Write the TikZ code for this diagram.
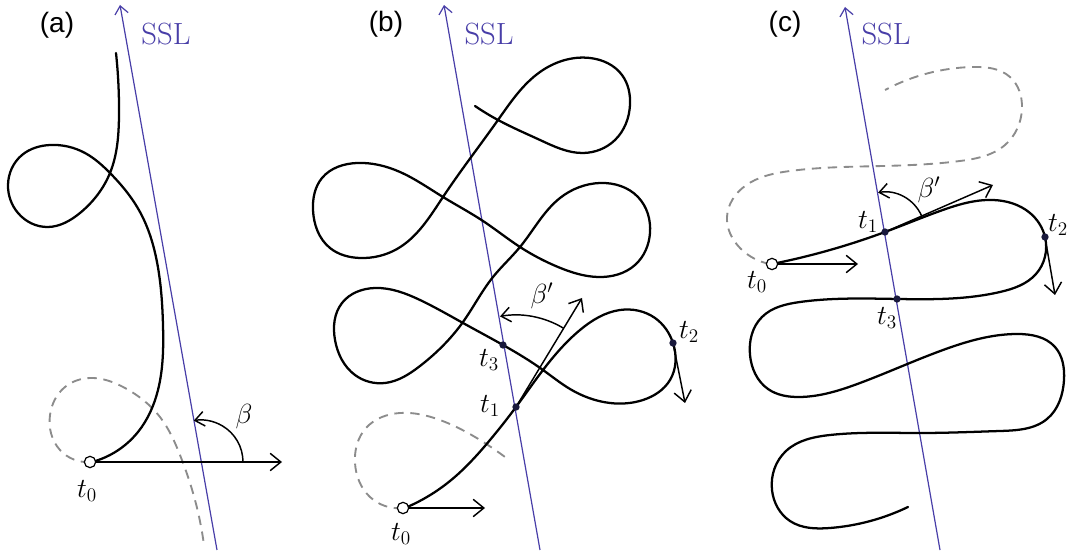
\documentclass[tikz,border=0pt]{standalone}
\usepackage{fontspec}
\newfontfamily\labfont{Liberation Sans}
\usetikzlibrary{arrows.meta,hobby}
\definecolor{sslc}{RGB}{72,62,168}
\definecolor{dashc}{RGB}{140,140,140}
\definecolor{dotc}{RGB}{25,25,60}
\tikzset{
  trj/.style={line width=1.7pt, black, line cap=round, line join=round, use Hobby shortcut},
  trjd/.style={line width=1.4pt, dashc, dash pattern=on 7pt off 5pt, use Hobby shortcut},
  ssl/.style={sslc, line width=0.9pt, -{Straight Barb[length=6pt,width=10pt]}},
  vec/.style={line width=1.1pt, -{Straight Barb[length=8pt,width=13pt]}},
  ang/.style={line width=1.1pt, -{Straight Barb[length=7pt,width=11pt]}},
  tdot/.style={circle, fill=dotc, inner sep=0pt, minimum size=5.5pt},
  startpt/.style={circle, draw, line width=0.9pt, fill=white, inner sep=0pt, minimum size=8.5pt},
  lab/.style={font=\fontsize{21}{24}\selectfont, inner sep=0pt},
  panel/.style={font=\labfont\fontsize{21}{24}\selectfont, inner sep=0pt},
  ssltxt/.style={text=sslc, font=\fontsize{23}{26}\selectfont, inner sep=0pt},
}
\begin{document}
\begin{tikzpicture}[x=0.75pt,y=-0.75pt]
\useasboundingbox (0,0) rectangle (1068,555);
\fill[white] (0,0) rectangle (1068,555);

% ================= panel (a) =================
\node[panel] (pa) at (57,25) {(a)};
\coordinate (sslaB) at (217,550);
\coordinate (sslaT) at (120,5);
\draw[ssl] (sslaB) -- (sslaT);
\node[ssltxt] (sslla) at (166,34) {SSL};

\draw[trjd] (90,462) .. (60,450) .. (50,415) .. (65,387) .. (90,378) .. (125,388) .. (160,417) .. (180,455) .. (195,500) .. (204,545);

\draw[trj] (116,53) .. (119,115) .. (110,173) .. (80,213) .. (48,227) .. (18,213) .. (8,185) .. (22,155) .. (50,145) .. (85,153) .. (110,173) .. (140,212) .. (157,262) .. (163,325) .. (158,390) .. (138,432) .. (110,455) .. (92,462);

\coordinate (t0a) at (90,462);
\coordinate (va) at (282,462);
\draw[vec] (t0a) -- (va);
\draw[ang] (243,462) arc[start angle=0, end angle=100, radius=31.5pt];
\node[lab] (betaa) at (244,417) {$\beta$};
\node[startpt] (t0an) at (t0a) {};
\node[lab] (t0al) at (87,491) {$t_0$};

% ================= panel (b) =================
\node[panel] (pb) at (386,24) {(b)};
\coordinate (sslbB) at (540,550);
\coordinate (sslbT) at (444,5);
\draw[ssl] (sslbB) -- (sslbT);
\node[ssltxt] (ssllb) at (489,34) {SSL};

\draw[trjd] (403,508) .. (370,497) .. (355,463) .. (366,428) .. (400,413) .. (440,420) .. (480,440) .. (505,457);

\draw[trj] (405,508) .. (450,481) .. (490,440) .. (516,407) .. (543,370) .. (580,330) .. (620,310) .. (655,318) .. (673,343) .. (670,380) .. (643,400) .. (610,403) .. (570,389) .. (543,370) .. (503,345) .. (463,323) .. (420,300) .. (375,288) .. (342,303) .. (335,340) .. (355,375) .. (385,383) .. (420,366) .. (463,322) .. (493,277) .. (520,247) .. (560,198) .. (600,183) .. (638,197) .. (650,233) .. (635,265) .. (598,277) .. (558,267) .. (520,247) .. (483,221) .. (443,197) .. (400,172) .. (357,163) .. (322,178) .. (313,210) .. (330,248) .. (360,258) .. (397,249) .. (443,197) .. (498,120) .. (540,72) .. (590,58) .. (622,75) .. (630,105) .. (615,140) .. (583,153) .. (540,140) .. (498,120) .. (475,106);

\coordinate (t0b) at (403,508);
\coordinate (t1b) at (516,407);
\coordinate (t2b) at (673,343);
\coordinate (t3b) at (503,345);
\coordinate (v0b) at (485,508);
\coordinate (v1b) at (582,298);
\coordinate (v2b) at (685,403);
\draw[vec] (t0b) -- (v0b);
\draw[vec] (t1b) -- (v1b);
\draw[vec] (t2b) -- (v2b);
\draw[ang] ([shift={(59:69pt)}]t1b) arc[start angle=59, end angle=100, radius=69pt];
\node[lab] (betab) at (542,296) {$\beta'$};
\node[startpt] (t0bn) at (t0b) {};
\node[tdot] (t1bn) at (t1b) {};
\node[tdot] (t2bn) at (t2b) {};
\node[tdot] (t3bn) at (t3b) {};
\node[lab] (t0bl) at (401,534) {$t_0$};
\node[lab] (t1bl) at (490,406) {$t_1$};
\node[lab] (t2bl) at (689,332) {$t_2$};
\node[lab] (t3bl) at (489,360) {$t_3$};

% ================= panel (c) =================
\node[panel] (pc) at (785,24) {(c)};
\coordinate (sslcB) at (940,550);
\coordinate (sslcT) at (845,7);
\draw[ssl] (sslcB) -- (sslcT);
\node[ssltxt] (ssllc) at (886,34) {SSL};

\draw[trjd] (770,264) .. (740,248) .. (727,217) .. (745,186) .. (790,171) .. (883,166) .. (960,161) .. (1005,145) .. (1022,108) .. (1010,77) .. (972,67) .. (885,90);

\draw[trj] (772,264) .. (830,250) .. (885,232) .. (940,211) .. (993,200) .. (1030,213) .. (1045,237) .. (1036,274) .. (1000,292) .. (898,299) .. (800,302) .. (762,317) .. (750,355) .. (768,389) .. (800,397) .. (860,383) .. (943,350) .. (1017,334) .. (1055,347) .. (1064,380) .. (1047,419) .. (1000,431) .. (922,433) .. (830,435) .. (786,451) .. (772,490) .. (790,521) .. (830,528) .. (908,507);

\coordinate (t0c) at (772,264);
\coordinate (t1c) at (885,232);
\coordinate (t2c) at (1045,237);
\coordinate (t3c) at (897,299);
\coordinate (v0c) at (858,264);
\coordinate (v1c) at (993,185);
\coordinate (v2c) at (1055,295);
\draw[vec] (t0c) -- (v0c);
\draw[vec] (t1c) -- (v1c);
\draw[vec] (t2c) -- (v2c);
\draw[ang] ([shift={(24:30pt)}]t1c) arc[start angle=24, end angle=100, radius=30pt];
\node[lab] (betac) at (929,190) {$\beta'$};
\node[startpt] (t0cn) at (t0c) {};
\node[tdot] (t1cn) at (t1c) {};
\node[tdot] (t2cn) at (t2c) {};
\node[tdot] (t3cn) at (t3c) {};
\node[lab] (t0cl) at (757,282) {$t_0$};
\node[lab] (t1cl) at (868,222) {$t_1$};
\node[lab] (t2cl) at (1058,225) {$t_2$};
\node[lab] (t3cl) at (887,318) {$t_3$};
\end{tikzpicture}
\end{document}
